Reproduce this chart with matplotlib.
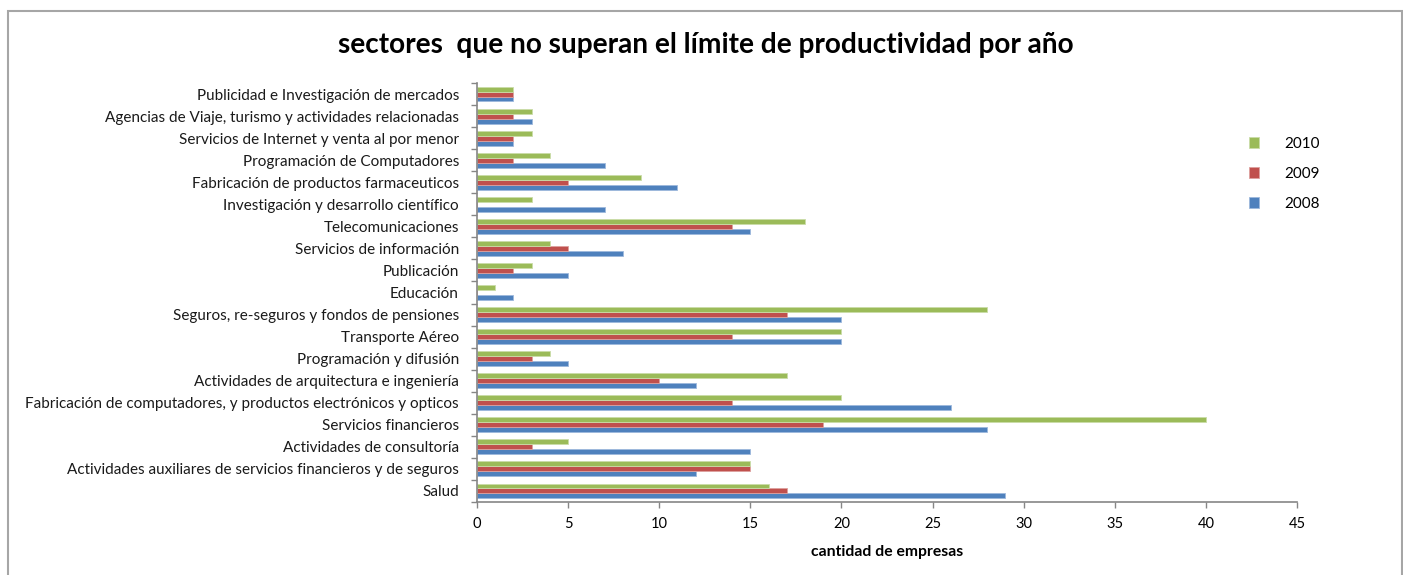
import matplotlib.pyplot as plt
import numpy as np
from matplotlib.patches import Rectangle

sectores = [
    'Salud',
    'Actividades auxiliares de servicios financieros y de seguros',
    'Actividades de consultoría',
    'Servicios financieros',
    'Fabricación de computadores, y productos electrónicos y opticos',
    'Actividades de arquitectura e ingeniería',
    'Programación y difusión',
    'Transporte Aéreo',
    'Seguros, re-seguros y fondos de pensiones',
    'Educación',
    'Publicación',
    'Servicios de información',
    'Telecomunicaciones',
    'Investigación y desarrollo científico',
    'Fabricación de productos farmaceuticos',
    'Programación de Computadores',
    'Servicios de Internet y venta al por menor',
    'Agencias de Viaje, turismo y actividades relacionadas',
    'Publicidad e Investigación de mercados',
]
v2008 = [29, 12, 15, 28, 26, 12, 5, 20, 20, 2, 5, 8, 15, 7, 11, 7, 2, 3, 2]
v2009 = [17, 15, 3, 19, 14, 10, 3, 14, 17, 0, 2, 5, 14, 0, 5, 2, 2, 2, 2]
v2010 = [16, 15, 5, 40, 20, 17, 4, 20, 28, 1, 3, 4, 18, 3, 9, 4, 3, 3, 2]

c2008 = '#4F81BD'
c2009 = '#C0504D'
c2010 = '#9BBB59'

font = 'Lato'

fig = plt.figure(figsize=(14.03, 5.75), dpi=100)
W, H = 1403, 575
ax = fig.add_axes([477 / W, 1 - 502 / H, (1297 - 477) / W, (502 - 83) / H])

# marco gris alrededor del gráfico
fig.patches.append(Rectangle((8 / W, -0.05), (1402 - 8) / W, 1.05 - 11 / H,
                             transform=fig.transFigure, fill=False,
                             edgecolor='#A6A6A6', linewidth=1.5))

y = np.arange(len(sectores))
h = 0.225
b08 = ax.barh(y - h, v2008, height=h, color=c2008, edgecolor='#9DB8DC', linewidth=0.6, label='2008')
b09 = ax.barh(y, v2009, height=h, color=c2009, edgecolor='#DDA09E', linewidth=0.6, label='2009')
b10 = ax.barh(y + h, v2010, height=h, color=c2010, edgecolor='#CADCA8', linewidth=0.6, label='2010')

ax.set_ylim(-0.5, len(sectores) - 0.5)
ax.set_xlim(0, 45)
ax.set_xticks(range(0, 46, 5))
ax.set_yticks(np.arange(-0.5, len(sectores), 1))
ax.set_yticklabels([])
ax.set_yticks(y, minor=True)
ax.set_yticklabels(sectores, minor=True, fontsize=11, family=font, color='#1a1a1a')
ax.tick_params(axis='y', which='minor', length=0, pad=13)
ax.tick_params(axis='y', which='major', length=4, color='#868686', width=1)
ax.tick_params(axis='x', length=4, color='#868686', width=1, labelsize=10.5, pad=7)
for lab in ax.get_xticklabels():
    lab.set_family(font)

for s in ['top', 'right']:
    ax.spines[s].set_visible(False)
for s in ['left', 'bottom']:
    ax.spines[s].set_color('#868686')
    ax.spines[s].set_linewidth(1.2)

ax.set_xlabel('cantidad de empresas', fontsize=11.3, fontweight='bold', family=font, labelpad=10)
fig.suptitle('sectores  que no superan el límite de productividad por año',
             x=706 / W, y=1 - 45 / H, va='center', fontsize=20.2, fontweight='bold', family=font)

fig.legend(handles=[b10, b09, b08], labels=['2010', '2009', '2008'],
           loc='upper left', bbox_to_anchor=(1235 / W, 1 - 123 / H), frameon=False,
           prop={'family': font, 'size': 11}, handlelength=0.7, handleheight=0.7,
           labelspacing=1.05, handletextpad=1.6)

fig.savefig('out.png', dpi=100)
